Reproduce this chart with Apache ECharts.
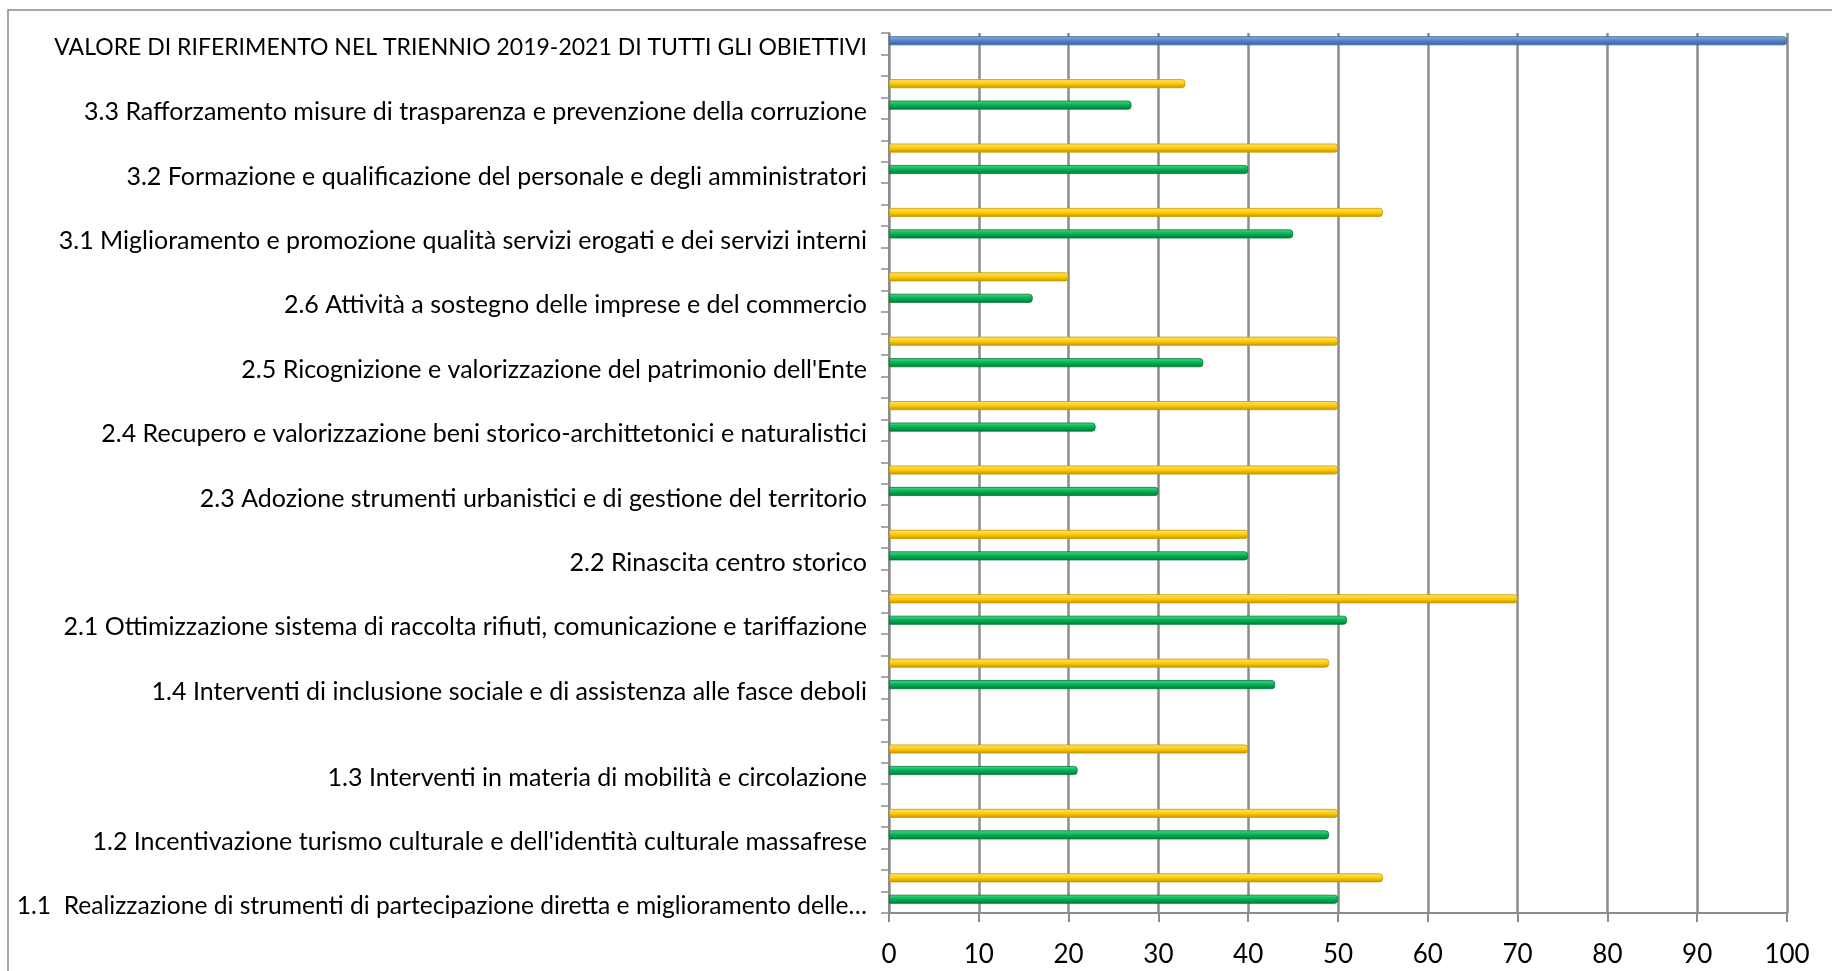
<!DOCTYPE html>
<html>
<head>
<meta charset="utf-8">
<script src="https://cdn.jsdelivr.net/npm/echarts@6/dist/echarts.min.js"></script>
<style>
html,body{margin:0;padding:0;background:#fff;}
#chart{width:1832px;height:971px;}
</style>
</head>
<body>
<div id="chart"></div>
<script>
// Objectives, from top to bottom as they appear in the chart
const objectives = [
  "3.3 Rafforzamento misure di trasparenza e prevenzione della corruzione",
  "3.2 Formazione e qualificazione del personale e degli amministratori",
  "3.1 Miglioramento e promozione qualità servizi erogati e dei servizi interni",
  "2.6 Attività a sostegno delle imprese e del commercio",
  "2.5 Ricognizione e valorizzazione del patrimonio dell'Ente",
  "2.4 Recupero e valorizzazione beni storico-archittetonici e naturalistici",
  "2.3 Adozione strumenti urbanistici e di gestione del territorio",
  "2.2 Rinascita centro storico",
  "2.1 Ottimizzazione sistema di raccolta rifiuti, comunicazione e tariffazione",
  "1.4 Interventi di inclusione sociale e di assistenza alle fasce deboli",
  "1.3 Interventi in materia di mobilità e circolazione",
  "1.2 Incentivazione turismo culturale e dell'identità culturale massafrese",
  "1.1  Realizzazione di strumenti di partecipazione diretta e miglioramento delle…"
];
const yellowValues = [33, 50, 55, 20, 50, 50, 50, 40, 70, 49, 40, 50, 55];
const greenValues  = [27, 40, 45, 16, 35, 23, 30, 40, 51, 43, 21, 49, 50];
// empty spreadsheet rows following each objective
const blankRowsAfter = [1, 1, 1, 1, 1, 1, 1, 1, 1, 2, 1, 1, 0];
const referenceLabel = "VALORE DI RIFERIMENTO NEL TRIENNIO 2019-2021 DI TUTTI GLI OBIETTIVI";
const referenceValue = 100;
const xTicks = [0, 10, 20, 30, 40, 50, 60, 70, 80, 90, 100];

// Build the row table (top to bottom)
const rows = [], yRows = [], gRows = [], bRows = [];
function addRow(label, y, g, b) { rows.push(label); yRows.push(y); gRows.push(g); bRows.push(b); }
addRow(referenceLabel, '-', '-', referenceValue);
addRow('', '-', '-', '-');
objectives.forEach(function (name, i) {
  addRow('', yellowValues[i], '-', '-');
  addRow(name, '-', greenValues[i], '-');
  for (let k = 0; k < blankRowsAfter[i]; k++) addRow('', '-', '-', '-');
});

const FONT = "Lato, 'Liberation Sans', sans-serif";
function grad(top, mid, bottom) {
  return new echarts.graphic.LinearGradient(0, 0, 0, 1, [
    {offset: 0, color: top}, {offset: 0.5, color: mid}, {offset: 1, color: bottom}
  ]);
}
function barSeries(name, data, fill, edge) {
  return {
    name: name, type: 'bar', stack: 'rows', data: data, barWidth: 9,
    itemStyle: {color: fill, borderColor: edge, borderWidth: 0.8, borderRadius: [0, 3, 3, 0]},
    emphasis: {disabled: true}, silent: true
  };
}

const chart = echarts.init(document.getElementById('chart'), null, {renderer: 'canvas'});
chart.setOption({
  animation: false,
  backgroundColor: '#ffffff',
  graphic: [{
    type: 'rect', shape: {x: 8, y: 10, width: 3000, height: 3000},
    style: {fill: 'none', stroke: '#8a8a8a', lineWidth: 1.5}, silent: true, z: -10
  }],
  grid: {left: 889, right: 45, top: 33, bottom: 58, containLabel: false, outerBoundsMode: 'none'},
  xAxis: {
    type: 'value', min: xTicks[0], max: xTicks[xTicks.length - 1], interval: 10,
    axisLine: {show: true, lineStyle: {color: '#8c8c8c', width: 2}},
    axisTick: {show: true, length: 9, lineStyle: {color: '#8c8c8c', width: 2}},
    axisLabel: {fontFamily: FONT, fontSize: 26, color: '#000', margin: 29},
    splitLine: {show: true, lineStyle: {color: '#8c8c8c', width: 2.5}}
  },
  yAxis: {
    type: 'category', inverse: true, data: rows,
    axisLine: {show: true, lineStyle: {color: '#8c8c8c', width: 2}},
    axisTick: {show: true, interval: 0, length: 8, lineStyle: {color: '#8c8c8c', width: 1.5}},
    axisLabel: {
      interval: 0, fontFamily: FONT, fontSize: 25, color: '#000', margin: 22,
      padding: [8, 0, 0, 0],
      formatter: function (v) {
        if (v === referenceLabel) return '{caps|' + v + '}';
        if (v.slice(-1) === '…') return '{trunc|' + v + '}';
        return v;
      },
      rich: {
        caps: {fontFamily: FONT, fontSize: 23, color: '#000'},
        trunc: {fontFamily: FONT, fontSize: 24.6, color: '#000'}
      }
    }
  },
  series: [
    barSeries('Target', yRows, grad('#ffe27a', '#ffcc00', '#c09300'), '#c49a00'),
    barSeries('Raggiunto', gRows, grad('#4fd786', '#00b050', '#00773a'), '#007a3a'),
    barSeries('Riferimento', bRows, grad('#8cb0e2', '#5283c4', '#34629c'), '#3a6398'),
    {name: 'spacer', type: 'bar', stack: 'spacer', data: rows.map(function(){return '-';}), barWidth: 6, silent: true, itemStyle: {color: 'transparent'}}
  ],
  barGap: 0
});
</script>
</body>
</html>
